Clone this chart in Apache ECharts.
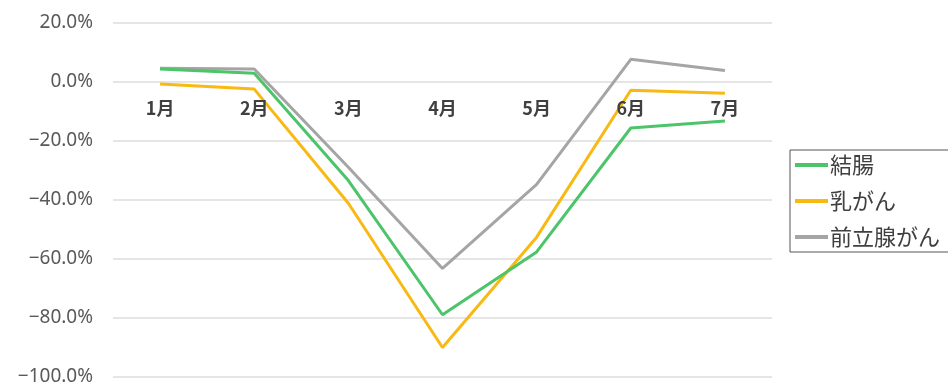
<!DOCTYPE html>
<html>
<head>
<meta charset="utf-8">
<script src="https://cdn.jsdelivr.net/npm/echarts@6/dist/echarts.min.js"></script>
<style>
  html, body { margin: 0; padding: 0; background: #fff; }
  #chart { width: 948px; height: 387px; }
</style>
</head>
<body>
<div id="chart"></div>
<script>
// Monthly change (%) by cancer type
const months = ['1月', '2月', '3月', '4月', '5月', '6月', '7月'];
const colon = [4.4, 3.0, -33.4, -78.9, -57.6, -15.6, -13.2];
const breast = [-0.7, -2.4, -41.1, -90.0, -52.6, -2.8, -3.8];
const prostate = [4.7, 4.4, -28.9, -63.2, -34.7, 7.7, 3.9];
const seriesNames = ['結腸', '乳がん', '前立腺がん'];
const seriesColors = ['#4cc46a', '#f8b913', '#a5a5a5'];

const font = '"Noto Sans CJK JP", "Noto Sans", sans-serif';
const chart = echarts.init(document.getElementById('chart'));

const gridTop = 23;
const gridBottom = 10;
const yMin = -100;
const yMax = 20;
const plotHeight = 387 - gridTop - gridBottom;
// pull the category axis up from the bottom edge to the 0% line
const zeroOffset = -plotHeight * (0 - yMin) / (yMax - yMin);

const values = [colon, breast, prostate];
chart.setOption({
  animation: false,
  textStyle: { fontFamily: font },
  grid: { left: 113, right: 176, top: gridTop, bottom: gridBottom, containLabel: false, outerBoundsMode: 'none' },
  legend: {
    orient: 'vertical',
    left: 790,
    top: 150,
    padding: [4, 20, 4, 5],
    itemGap: 14,
    itemWidth: 33,
    itemHeight: 4,
    icon: 'rect',
    borderColor: '#555',
    borderWidth: 1,
    backgroundColor: '#fff',
    textStyle: { fontFamily: font, fontSize: 22, color: '#404040', padding: [0, 0, 0, -3] },
    data: seriesNames
  },
  xAxis: {
    type: 'category',
    data: months,
    boundaryGap: true,
    position: 'bottom',
    offset: zeroOffset,
    axisLine: { show: false, onZero: false },
    axisTick: { show: false },
    axisLabel: { fontFamily: font, fontSize: 18, fontWeight: 'bold', color: '#404040', margin: 17 },
    z: 5
  },
  yAxis: {
    type: 'value',
    min: yMin,
    max: yMax,
    interval: 20,
    axisLine: { show: false },
    axisTick: { show: false },
    splitLine: { lineStyle: { color: '#dcdcdc', width: 1.5 } },
    axisLabel: {
      fontFamily: '"Noto Sans", sans-serif',
      fontSize: 19,
      color: '#595959',
      margin: 20,
      formatter: v => v.toFixed(1).replace('-', '\u2212') + '%'
    }
  },
  series: seriesNames.map((name, i) => ({
    name,
    type: 'line',
    data: values[i],
    symbol: 'none',
    color: seriesColors[i],
    lineStyle: { width: 3, color: seriesColors[i] },
    z: 3 - i
  }))
});
</script>
</body>
</html>
